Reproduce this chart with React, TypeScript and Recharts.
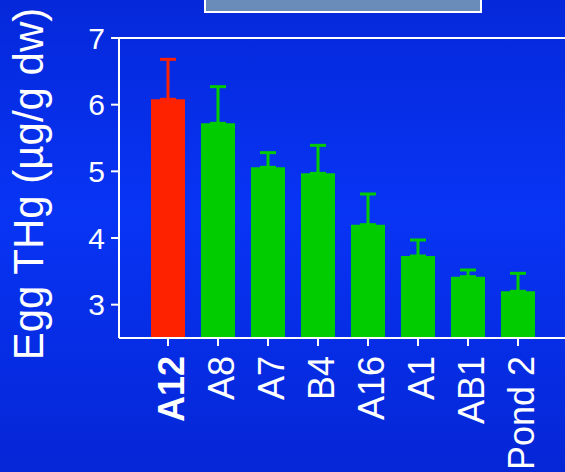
import { BarChart, Bar, XAxis, YAxis, ErrorBar, ReferenceLine } from "recharts";

const sites = ["A12", "A8", "A7", "B4", "A16", "A1", "AB1", "Pond 2"];
const eggTHg = [6.08, 5.72, 5.06, 4.97, 4.2, 3.73, 3.42, 3.2];
const upperErr = [0.6, 0.55, 0.22, 0.42, 0.46, 0.24, 0.1, 0.27];
const highlighted = "A12";
const yTicks = [3, 4, 5, 6, 7];

const RED = "#ff2200";
const GREEN = "#00cc00";
const FONT = "Arial, 'Liberation Sans', sans-serif";

const rows = sites.map((name, i) => {
  const hi = name === highlighted;
  return {
    name,
    red: hi ? eggTHg[i] : null,
    green: hi ? null : eggTHg[i],
    redErr: hi ? [0, upperErr[i]] : null,
    greenErr: hi ? null : [0, upperErr[i]],
  };
});

const SiteTick = (props: any) => {
  const { x, y, payload } = props;
  const bold = payload.value === highlighted;
  return (
    <g transform={`translate(${x},${y + 8}) rotate(-90)`}>
      <text
        x={0}
        y={16}
        textAnchor="end"
        fill="#ffffff"
        fontSize={36}
        fontWeight={bold ? 700 : 400}
        fontFamily={FONT}
      >
        {payload.value}
      </text>
    </g>
  );
};

const YLabel = () => (
  <text
    x={43}
    y={184}
    transform="rotate(-90, 43, 184)"
    textAnchor="middle"
    fill="#ffffff"
    fontSize={42}
    fontFamily={FONT}
  >
    Egg THg (µg/g dw)
  </text>
);

export default function App() {
  return (
    <div
      style={{
        position: "absolute",
        left: 0,
        top: 0,
        width: 565,
        height: 472,
        overflow: "hidden",
        background:
          "linear-gradient(to bottom, #0528da 0%, #0834f4 45%, #0526d6 100%)",
      }}
    >
      <div
        style={{
          position: "absolute",
          left: 204,
          top: -10,
          width: 274,
          height: 19,
          background: "#6a8cb8",
          border: "2px solid #ffffff",
        }}
      />
      <BarChart
        width={570}
        height={472}
        data={rows}
        margin={{ top: 38, right: 3, bottom: 0, left: 0 }}
      >
        <XAxis
          dataKey="name"
          xAxisId="a"
          height={134}
          padding={{ left: 24, right: 24 }}
          axisLine={{ stroke: "#ffffff", strokeWidth: 2 }}
          tickLine={{ stroke: "#ffffff", strokeWidth: 2 }}
          tickSize={8}
          interval={0}
          tick={<SiteTick />}
        />
        <XAxis
          dataKey="name"
          xAxisId="b"
          hide
          padding={{ left: 24, right: 24 }}
        />
        <YAxis
          width={119}
          domain={[2.5, 7]}
          ticks={yTicks}
          allowDataOverflow
          axisLine={{ stroke: "#ffffff", strokeWidth: 2 }}
          tickLine={{ stroke: "#ffffff", strokeWidth: 2 }}
          tickSize={8}
          tickMargin={6}
          tick={{ fill: "#ffffff", fontSize: 30, fontFamily: FONT }}
          label={<YLabel />}
        />
        <ReferenceLine xAxisId="a" y={7} stroke="#ffffff" strokeWidth={2} />
        <Bar
          dataKey="red"
          xAxisId="a"
          fill={RED}
          barSize={34}
          isAnimationActive={false}
        >
          <ErrorBar
            dataKey="redErr"
            width={8}
            stroke={RED}
            strokeWidth={3}
            isAnimationActive={false}
          />
        </Bar>
        <Bar
          dataKey="green"
          xAxisId="b"
          fill={GREEN}
          barSize={34}
          isAnimationActive={false}
        >
          <ErrorBar
            dataKey="greenErr"
            width={8}
            stroke={GREEN}
            strokeWidth={3}
            isAnimationActive={false}
          />
        </Bar>
      </BarChart>
    </div>
  );
}
